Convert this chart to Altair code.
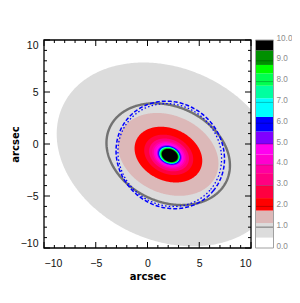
import numpy as np
import pandas as pd
import altair as alt

# ---- data ----
# filled contour bands: lower level of each band, its colour, semi-major axis (arcsec) and centre
levels = [0.5, 1.2, 1.8, 2.4, 3.0, 3.6, 4.0, 4.5, 5.0, 5.6, 6.3, 7.2, 7.8, 8.4, 8.8, 9.5]
band_colors = ["#dcdcdc", "#dcb8b8", "#ff0000", "#ff0040", "#ff0080", "#ff00a0",
               "#ff00d0", "#ff00f0", "#8000ff", "#0000ff", "#00ffff", "#00ffa0",
               "#00ff50", "#00ff00", "#009000", "#000000"]
semi_major = [11.2, 5.05, 3.4, 2.46, 2.0, 1.72, 1.55, 1.38, 1.22, 1.12, 1.03, 0.97,
              0.93, 0.89, 0.85, 0.8]
center_x = [2.0, 2.0, 2.02, 2.05, 2.08, 2.1, 2.1, 2.1, 2.12, 2.12, 2.12, 2.14,
            2.14, 2.15, 2.15, 2.15]
center_y = [-1.0, -1.0, -1.02, -1.04, -1.05, -1.06, -1.06, -1.07, -1.08, -1.08,
            -1.09, -1.09, -1.1, -1.1, -1.1, -1.1]
axis_ratio = 0.74
pos_angle = -24.0

# contour lines: model level 1.0 (grey), two isophotes (blue dashed / dotted)
line_a = [6.2, 5.4, 5.15]
line_b = [4.59, 5.0, 4.8]
line_angle = [-24.0, -40.0, -40.0]
line_cx = [2.0, 2.2, 2.15]
line_cy = [-0.98, -1.05, -1.06]
line_colors = ["#727272", "#0000ff", "#0000ff"]
line_widths = [2.4, 1.5, 1.3]
line_dashes = [[1, 0], [4, 2], [1.5, 2.2]]

# axes
x_domain = [-10, 10]
y_domain = [-10, 10]
major_ticks = [-10, -5, 0, 5, 10]
minor_ticks = [-9, -8, -7, -6, -4, -3, -2, -1, 1, 2, 3, 4, 6, 7, 8, 9]

# colour bar
cbar_lo = [0.0] + levels
cbar_hi = levels + [10.0]
cbar_colors = ["#ffffff"] + band_colors
cbar_ticks = [0, 1, 2, 3, 4, 5, 6, 7, 8, 9, 10]
cbar_lines = [2, 3, 4, 5, 6, 7, 8, 9]
cbar_main_line = [1.0]

W, H = 207, 208
MAJ, MIN = 6, 3


def ellipse_area(cx, cy, a, b, ang, n=240):
    th = np.radians(ang)
    c, s = np.cos(th), np.sin(th)
    A = c * c / a ** 2 + s * s / b ** 2
    B = 2 * c * s * (1 / a ** 2 - 1 / b ** 2)
    C = s * s / a ** 2 + c * c / b ** 2
    xext = np.sqrt(a * a * c * c + b * b * s * s)
    t = np.linspace(np.pi, 0, n)
    dx = xext * np.cos(t)
    disc = np.clip(B * B * dx * dx - 4 * C * (A * dx * dx - 1), 0, None)
    yh = (-B * dx + np.sqrt(disc)) / (2 * C)
    yl = (-B * dx - np.sqrt(disc)) / (2 * C)
    return pd.DataFrame({"x": cx + dx, "y": cy + yh, "y2": cy + yl})


def ellipse_line(cx, cy, a, b, ang, n=300):
    th = np.radians(ang)
    c, s = np.cos(th), np.sin(th)
    t = np.linspace(0, 2 * np.pi, n)
    u, v = a * np.cos(t), b * np.sin(t)
    return pd.DataFrame({"x": cx + u * c - v * s, "y": cy + u * s + v * c, "i": np.arange(n)})


xs = alt.Scale(domain=x_domain, nice=False, zero=False)
ys = alt.Scale(domain=y_domain, nice=False, zero=False)
xaxis = alt.Axis(values=major_ticks, title="arcsec", ticks=False, domain=False, grid=False,
                 labelPadding=10, labelFontSize=10.5, labelColor="#111111",
                 titleFontSize=10, titleFontWeight="bold", titleX=103.5, titleY=31.5,
                 titleBaseline="alphabetic", titleAlign="center")
yaxis = alt.Axis(values=major_ticks, title="arcsec", ticks=False, domain=False, grid=False,
                 labelPadding=6, labelFontSize=10.5, labelColor="#111111", labelFlush=True,
                 titleFontSize=10, titleFontWeight="bold", titleX=-26, titleY=104,
                 titleAngle=270, titleBaseline="alphabetic", titleAlign="center")


def X(f="x"):
    return alt.X(f"{f}:Q", scale=xs, axis=xaxis)


def Y(f="y"):
    return alt.Y(f"{f}:Q", scale=ys, axis=yaxis)


layers = []
for i in range(len(levels)):
    a = semi_major[i]
    df = ellipse_area(center_x[i], center_y[i], a, a * axis_ratio, pos_angle)
    layers.append(
        alt.Chart(df).mark_area(color=band_colors[i], clip=True, orient="vertical")
        .encode(x=X(), y=Y(), y2=alt.Y2("y2:Q"))
    )

for j in range(len(line_a)):
    df = ellipse_line(line_cx[j], line_cy[j], line_a[j], line_b[j], line_angle[j])
    layers.append(
        alt.Chart(df).mark_line(color=line_colors[j], strokeWidth=line_widths[j],
                                strokeDash=line_dashes[j], clip=True)
        .encode(x=X(), y=Y(), order=alt.Order("i:Q"))
    )

maj_df = pd.DataFrame({"v": major_ticks})
min_df = pd.DataFrame({"v": minor_ticks})
for df, L in [(maj_df, MAJ), (min_df, MIN)]:
    layers.append(alt.Chart(df).mark_rule(color="black", strokeWidth=1)
                  .encode(x=X("v"), y=alt.value(H), y2=alt.value(H - L)))
    layers.append(alt.Chart(df).mark_rule(color="black", strokeWidth=1)
                  .encode(x=X("v"), y=alt.value(0), y2=alt.value(L)))
    layers.append(alt.Chart(df).mark_rule(color="black", strokeWidth=1)
                  .encode(y=Y("v"), x=alt.value(0), x2=alt.value(L)))
    layers.append(alt.Chart(df).mark_rule(color="black", strokeWidth=1)
                  .encode(y=Y("v"), x=alt.value(W), x2=alt.value(W - L)))

frame_df = pd.DataFrame({"x": [x_domain[0]], "x2": [x_domain[1]],
                         "y": [y_domain[0]], "y2": [y_domain[1]]})
layers.append(alt.Chart(frame_df).mark_rect(filled=False, stroke="black", strokeWidth=1.3)
              .encode(x=X(), x2=alt.X2("x2:Q"), y=Y(), y2=alt.Y2("y2:Q")))

main = alt.layer(*layers)

# ---- colour bar ----
cys = alt.Scale(domain=[0, 10], nice=False, zero=False)
cyaxis = alt.Axis(orient="right", values=cbar_ticks, format=".1f", offset=22, labelPadding=3,
                  ticks=False, domain=False, grid=False, title="", labelColor="#8c8c8c",
                  labelFontSize=8.2, labelBaseline="alphabetic", labelFlush=False)
CB_X1, CB_X2 = 211.5, 229.5
cbar_df = pd.DataFrame({"lo": cbar_lo, "hi": cbar_hi, "col": cbar_colors})
bars = alt.Chart(cbar_df).mark_rect().encode(
    y=alt.Y("lo:Q", scale=cys, axis=cyaxis), y2=alt.Y2("hi:Q"),
    x=alt.value(CB_X1), x2=alt.value(CB_X2),
    color=alt.Color("col:N", scale=None, legend=None))
clines = alt.Chart(pd.DataFrame({"lo": cbar_lines})).mark_rule(
    color="black", opacity=0.25, strokeWidth=1).encode(
    y=alt.Y("lo:Q", scale=cys, axis=cyaxis), x=alt.value(CB_X1), x2=alt.value(CB_X2))
cmain = alt.Chart(pd.DataFrame({"lo": cbar_main_line})).mark_rule(
    color="#9a9a9a", strokeWidth=1.6).encode(
    y=alt.Y("lo:Q", scale=cys, axis=cyaxis), x=alt.value(CB_X1), x2=alt.value(CB_X2))
cbox = alt.Chart(pd.DataFrame({"lo": [0.0], "hi": [10.0]})).mark_rect(
    filled=False, stroke="#a0a0a0", strokeWidth=1).encode(
    y=alt.Y("lo:Q", scale=cys, axis=cyaxis), y2=alt.Y2("hi:Q"),
    x=alt.value(CB_X1), x2=alt.value(CB_X2))
cbar = alt.layer(bars, clines, cmain, cbox)

chart = (
    alt.layer(main, cbar)
    .resolve_scale(y="independent")
    .properties(width=W, height=H,
                autosize=alt.AutoSizeParams(type="none"),
                padding={"left": 36, "top": 32, "right": 41, "bottom": 44})
    .configure_view(strokeWidth=0)
    .configure_axis(labelFont="Liberation Sans", titleFont="DejaVu Sans")
)

chart.save("out.html", embed_options={"renderer": "svg", "actions": False})
